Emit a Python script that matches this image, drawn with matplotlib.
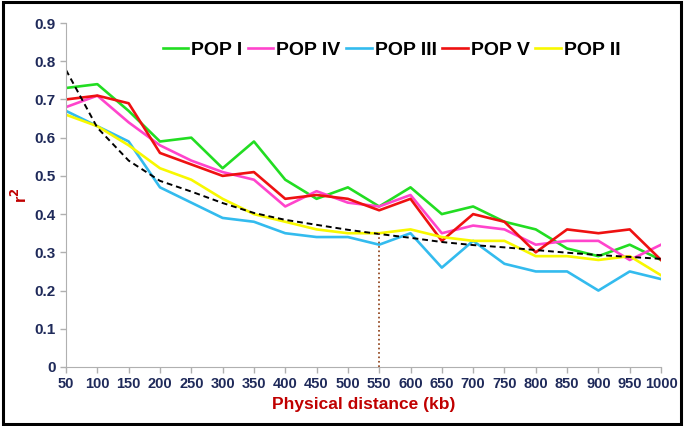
import numpy as np
import matplotlib.pyplot as plt
from matplotlib.patches import Rectangle

# distances (kb)
distance = [50, 100, 150, 200, 250, 300, 350, 400, 450, 500,
            550, 600, 650, 700, 750, 800, 850, 900, 950, 1000]

pop_1 = [0.73, 0.74, 0.67, 0.59, 0.60, 0.52, 0.59, 0.49, 0.44, 0.47,
         0.42, 0.47, 0.40, 0.42, 0.38, 0.36, 0.31, 0.29, 0.32, 0.28]
pop_4 = [0.68, 0.71, 0.64, 0.58, 0.54, 0.51, 0.49, 0.42, 0.46, 0.43,
         0.42, 0.45, 0.35, 0.37, 0.36, 0.32, 0.33, 0.33, 0.28, 0.32]
pop_3 = [0.67, 0.63, 0.59, 0.47, 0.43, 0.39, 0.38, 0.35, 0.34, 0.34,
         0.32, 0.35, 0.26, 0.33, 0.27, 0.25, 0.25, 0.20, 0.25, 0.23]
pop_5 = [0.70, 0.71, 0.69, 0.56, 0.53, 0.50, 0.51, 0.44, 0.45, 0.44,
         0.41, 0.44, 0.33, 0.40, 0.38, 0.30, 0.36, 0.35, 0.36, 0.28]
pop_2 = [0.66, 0.63, 0.58, 0.52, 0.49, 0.44, 0.40, 0.38, 0.36, 0.35,
         0.35, 0.36, 0.34, 0.33, 0.33, 0.29, 0.29, 0.28, 0.29, 0.24]
# decay trend (dashed)
trend = [0.777, 0.626, 0.54, 0.487, 0.459, 0.429, 0.403, 0.385, 0.372, 0.359,
         0.348, 0.338, 0.327, 0.319, 0.313, 0.306, 0.299, 0.293, 0.288, 0.283]

half_decay_x = 550
half_decay_y = 0.35

navy = '#1f2a5a'
darkred = '#c00000'

fig = plt.figure(figsize=(6.85, 4.26), dpi=100)
ax = fig.add_axes([0.0964, 0.1385, 0.8686, 0.8075])

ax.plot(distance, pop_1, color='#22dd22', lw=1.9, label='POP I')
ax.plot(distance, pop_4, color='#ff44cc', lw=1.9, label='POP IV')
ax.plot(distance, pop_3, color='#33bbee', lw=1.9, label='POP III')
ax.plot(distance, pop_5, color='#ee1111', lw=1.9, label='POP V')
ax.plot(distance, pop_2, color='#f8f800', lw=1.9, label='POP II')
ax.plot(distance, trend, color='black', lw=1.4, ls=(0, (3, 2)))
ax.plot([half_decay_x, half_decay_x], [0, half_decay_y], color='#8b3a0f',
        lw=1.2, ls=':')

ax.set_xlim(50, 1000)
ax.set_ylim(0, 0.9)
ax.set_xticks(distance)
ax.set_yticks(np.arange(0, 0.91, 0.1))
ax.set_yticklabels(['0'] + ['%.1f' % v for v in np.arange(0.1, 0.91, 0.1)])

for s in ['top', 'right']:
    ax.spines[s].set_visible(False)
for s in ['left', 'bottom']:
    ax.spines[s].set_color('#b0b0b0')
ax.tick_params(colors='#b0b0b0', length=4, width=1)
for lab in ax.get_xticklabels():
    lab.set_color(navy)
    lab.set_fontweight('bold')
    lab.set_fontsize(10.5)
    lab.set_family('Liberation Sans')
for lab in ax.get_yticklabels():
    lab.set_color(navy)
    lab.set_fontweight('bold')
    lab.set_fontsize(11)
    lab.set_family('Liberation Sans')

ax.set_xlabel('Physical distance (kb)', color=darkred, fontweight='bold',
              fontsize=12.5, family='Liberation Sans', labelpad=4)
fig.text(20 / 685, 1 - 195 / 426, 'r$^\\mathbf{2}$', color=darkred,
         fontweight='bold', fontsize=12, family='Liberation Sans',
         rotation=90, ha='center', va='center')

ax.legend(loc='upper center', bbox_to_anchor=(0.547, 0.997), ncol=5,
          frameon=False, handlelength=1.3, handletextpad=0.15, columnspacing=0.3,
          prop={'family': 'Liberation Sans', 'weight': 'bold', 'size': 14})

fig.patches.append(Rectangle((0.004, 0.005), 0.99, 0.99, transform=fig.transFigure,
                             fill=False, edgecolor='black', lw=2.2))

fig.savefig('out.png', dpi=100)
